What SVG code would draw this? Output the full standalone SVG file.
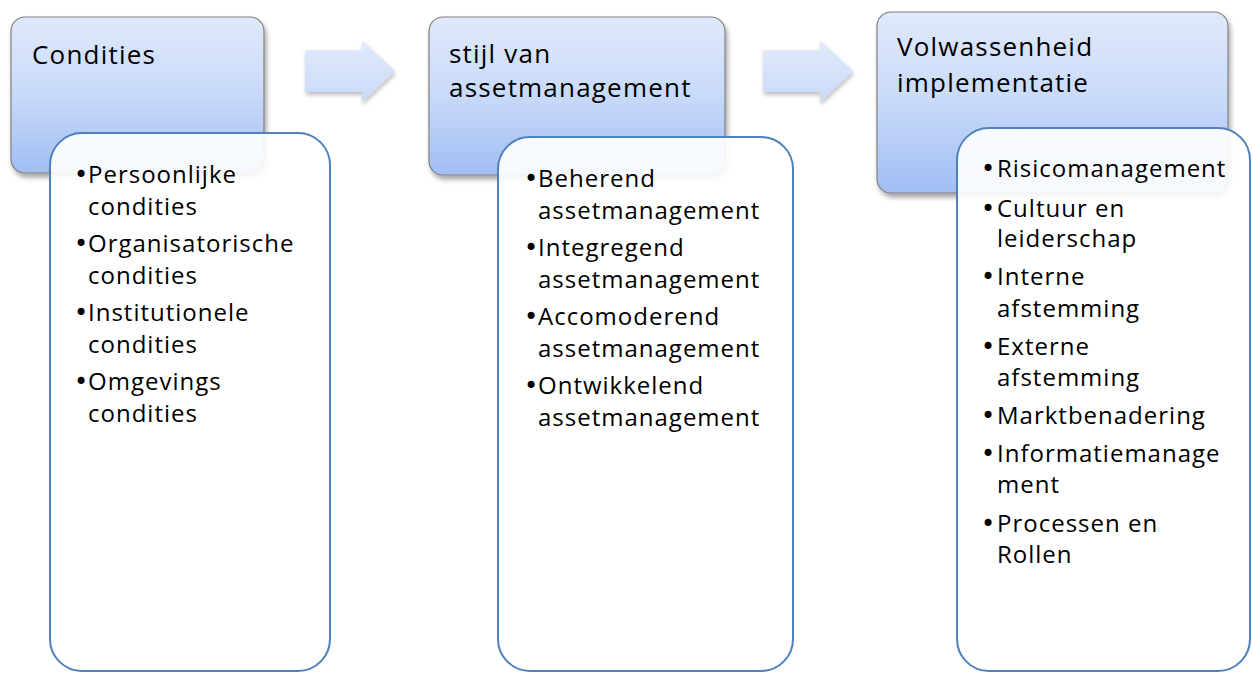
<svg xmlns="http://www.w3.org/2000/svg" width="1252" height="673" viewBox="0 0 1252 673">
  <defs>
    <linearGradient id="hdr" x1="0" y1="0" x2="0" y2="1">
      <stop offset="0" stop-color="#e0e9fb"/>
      <stop offset="0.5" stop-color="#c8daf9"/>
      <stop offset="1" stop-color="#a1bdf3"/>
    </linearGradient>
    <linearGradient id="arr" x1="0" y1="0" x2="0" y2="1">
      <stop offset="0" stop-color="#e2ebfc"/>
      <stop offset="1" stop-color="#c9d9f8"/>
    </linearGradient>
    <filter id="sh" x="-10%" y="-10%" width="125%" height="130%">
      <feDropShadow dx="2" dy="4" stdDeviation="2.5" flood-color="#000" flood-opacity="0.35"/>
    </filter>
    <filter id="shs" x="-20%" y="-20%" width="150%" height="160%">
      <feDropShadow dx="1" dy="3" stdDeviation="2" flood-color="#000" flood-opacity="0.25"/>
    </filter>
  </defs>
  <style>
    .hdr { fill: url(#hdr); stroke: #808080; stroke-width: 1.2; filter: url(#sh); }
    .lst { fill: #ffffff; fill-opacity: 0.9; stroke: #4f81bd; stroke-width: 2; }
    .arr { fill: url(#arr); filter: url(#shs); }
    .ht { font-family: "Open Sans", "Noto Sans", sans-serif; font-size: 26px; letter-spacing: 1.2px; fill: #000; }
    .lt { font-family: "Open Sans", "Noto Sans", sans-serif; font-size: 24px; letter-spacing: 1px; fill: #000; }
    .b { font-family: "DejaVu Sans", sans-serif; letter-spacing: 0; }
  </style>
  <rect width="1252" height="673" fill="#ffffff"/>

  <g id="connectors">
    <path class="arr" d="M305,50 H362 V40 L395,71 L362,102 V92 H305 Z"/>
    <path class="arr" d="M763,50 H820 V40 L853,71 L820,102 V92 H763 Z"/>
  </g>

  <g id="node-condities">
    <rect class="hdr" x="11" y="17" width="253" height="156" rx="14"/>
    <text class="ht" x="32" y="64">Condities</text>
  </g>
  <g id="list-condities">
    <rect class="lst" x="50" y="133" width="280" height="538" rx="32"/>
    <text class="lt"><tspan class="b" x="74" y="183">•</tspan><tspan x="88" y="183">Persoonlijke</tspan><tspan x="88" y="214.5">condities</tspan></text>
    <text class="lt"><tspan class="b" x="74" y="252">•</tspan><tspan x="88" y="252">Organisatorische</tspan><tspan x="88" y="283.5">condities</tspan></text>
    <text class="lt"><tspan class="b" x="74" y="321">•</tspan><tspan x="88" y="321">Institutionele</tspan><tspan x="88" y="352.5">condities</tspan></text>
    <text class="lt"><tspan class="b" x="74" y="390">•</tspan><tspan x="88" y="390">Omgevings</tspan><tspan x="88" y="421.5">condities</tspan></text>
  </g>

  <g id="node-stijl">
    <rect class="hdr" x="429" y="17" width="296" height="158" rx="14"/>
    <text class="ht"><tspan x="449" y="63">stijl van</tspan><tspan x="449" y="97">assetmanagement</tspan></text>
  </g>
  <g id="list-stijl">
    <rect class="lst" x="498" y="137" width="295" height="534" rx="32"/>
    <text class="lt"><tspan class="b" x="524" y="187">•</tspan><tspan x="538" y="187">Beherend</tspan><tspan x="538" y="218.5">assetmanagement</tspan></text>
    <text class="lt"><tspan class="b" x="524" y="256">•</tspan><tspan x="538" y="256">Integregend</tspan><tspan x="538" y="287.5">assetmanagement</tspan></text>
    <text class="lt"><tspan class="b" x="524" y="325">•</tspan><tspan x="538" y="325">Accomoderend</tspan><tspan x="538" y="356.5">assetmanagement</tspan></text>
    <text class="lt"><tspan class="b" x="524" y="394">•</tspan><tspan x="538" y="394">Ontwikkelend</tspan><tspan x="538" y="425.5">assetmanagement</tspan></text>
  </g>

  <g id="node-volwassenheid">
    <rect class="hdr" x="877" y="12" width="351" height="181" rx="14"/>
    <text class="ht"><tspan x="897" y="56">Volwassenheid</tspan><tspan x="897" y="92">implementatie</tspan></text>
  </g>
  <g id="list-volwassenheid">
    <rect class="lst" x="957" y="128" width="293" height="543" rx="32"/>
    <text class="lt"><tspan class="b" x="981" y="177">•</tspan><tspan x="997" y="177">Risicomanagement</tspan></text>
    <text class="lt"><tspan class="b" x="981" y="217">•</tspan><tspan x="997" y="217">Cultuur en</tspan><tspan x="997" y="247">leiderschap</tspan></text>
    <text class="lt"><tspan class="b" x="981" y="285">•</tspan><tspan x="997" y="285">Interne</tspan><tspan x="997" y="317">afstemming</tspan></text>
    <text class="lt"><tspan class="b" x="981" y="355">•</tspan><tspan x="997" y="355">Externe</tspan><tspan x="997" y="386">afstemming</tspan></text>
    <text class="lt"><tspan class="b" x="981" y="424">•</tspan><tspan x="997" y="424">Marktbenadering</tspan></text>
    <text class="lt"><tspan class="b" x="981" y="462">•</tspan><tspan x="997" y="462">Informatiemanage</tspan><tspan x="997" y="493">ment</tspan></text>
    <text class="lt"><tspan class="b" x="981" y="532">•</tspan><tspan x="997" y="532">Processen en</tspan><tspan x="997" y="563">Rollen</tspan></text>
  </g>
</svg>
